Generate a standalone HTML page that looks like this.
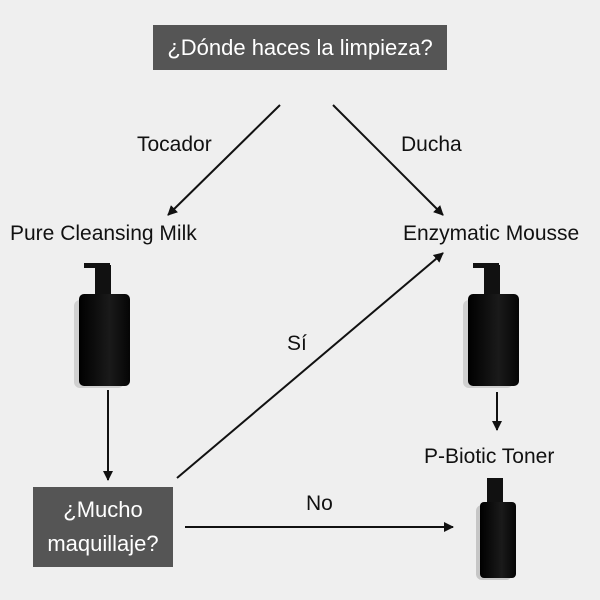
<!DOCTYPE html>
<html><head><style>
body{margin:0;width:600px;height:600px;background:#efefef;position:relative;overflow:hidden;font-family:"Liberation Sans","DejaVu Sans",sans-serif;}
.t{position:absolute;color:#111;font-size:21px;white-space:nowrap}
.box{position:absolute;background:#555;color:#fff;font-size:22px;text-align:center}
</style></head><body>
<div class="box" style="left:153px;top:25px;width:294px;height:45px;line-height:45px">¿Dónde haces la limpieza?</div>
<div class="box" style="left:33px;top:487px;width:140px;height:80px;line-height:34px;padding-top:6px;box-sizing:border-box">¿Mucho<br>maquillaje?</div>
<div class="t" style="left:137px;top:133px">Tocador</div>
<div class="t" style="left:401px;top:133px">Ducha</div>
<div class="t" style="left:10px;top:222px">Pure Cleansing Milk</div>
<div class="t" style="left:403px;top:222px">Enzymatic Mousse</div>
<div class="t" style="left:424px;top:445px">P-Biotic Toner</div>
<div class="t" style="left:287px;top:332px">Sí</div>
<div class="t" style="left:306px;top:492px">No</div>
<svg width="600" height="600" style="position:absolute;left:0;top:0">
<defs><marker id="a" markerWidth="10" markerHeight="10" refX="9" refY="5" orient="auto" markerUnits="userSpaceOnUse"><path d="M0,0 L10,5 L0,10 z" fill="#111"/></marker>
<linearGradient id="g" x1="0" x2="1"><stop offset="0" stop-color="#000"/><stop offset=".6" stop-color="#1a1a1a"/><stop offset="1" stop-color="#050505"/></linearGradient></defs>
<g stroke="#111" stroke-width="2" marker-end="url(#a)">
<line x1="280" y1="105" x2="168" y2="215"/>
<line x1="333" y1="105" x2="443" y2="215"/>
<line x1="108" y1="390" x2="108" y2="480"/>
<line x1="497" y1="392" x2="497" y2="430"/>
<line x1="177" y1="478" x2="443" y2="253"/>
<line x1="185" y1="527" x2="453" y2="527"/>
</g>
<g id="b1">
<rect x="74" y="300" width="50" height="88" rx="6" fill="#bbb" opacity=".6"/>
<rect x="84" y="263" width="26" height="5" fill="#111"/>
<rect x="95" y="265" width="16" height="32" fill="#111"/>
<rect x="79" y="294" width="51" height="92" rx="5" fill="url(#g)"/>
</g>
<use href="#b1" x="389"/>
<rect x="476" y="505" width="36" height="75" rx="6" fill="#aaa" opacity=".6"/>
<rect x="487" y="478" width="16" height="26" fill="#111"/>
<rect x="480" y="502" width="36" height="76" rx="4" fill="url(#g)"/>
</svg>
</body></html>
